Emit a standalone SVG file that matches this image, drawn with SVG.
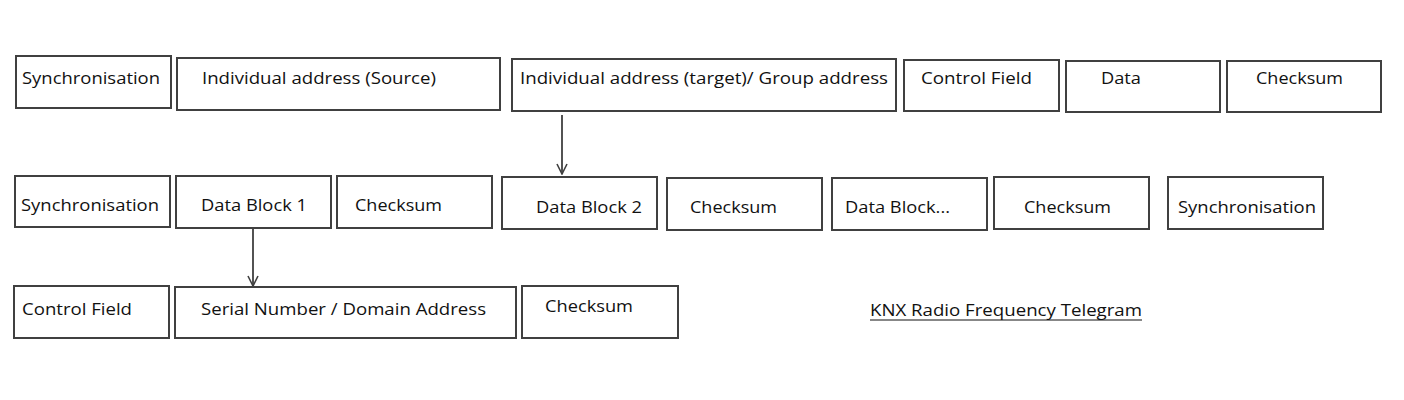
<svg xmlns="http://www.w3.org/2000/svg" width="1404" height="400" viewBox="0 0 1404 400">
<style>
.b{fill:#fff;stroke:#404040;stroke-width:2}
.t{font-family:"Open Sans","Liberation Sans",sans-serif;font-size:17px;fill:#111}
.c{stroke:#404040;stroke-width:1.8;fill:none}
</style>
<defs>
<marker id="ah" viewBox="0 0 12 12" refX="11" refY="6" markerWidth="12" markerHeight="12" markerUnits="userSpaceOnUse" orient="auto">
<path d="M1,1 L11,6 L1,11" fill="none" stroke="#404040" stroke-width="1.6"/>
</marker>
</defs>
<rect width="1404" height="400" fill="#fff"/>
<g id="r1-sync"><rect class="b" x="16" y="56" width="155" height="52"/><text class="t" x="22" y="84" textLength="138" lengthAdjust="spacingAndGlyphs">Synchronisation</text></g>
<g id="r1-src"><rect class="b" x="177" y="58" width="323" height="52"/><text class="t" x="202" y="84" textLength="234" lengthAdjust="spacingAndGlyphs">Individual address (Source)</text></g>
<g id="r1-tgt"><rect class="b" x="512" y="59" width="384" height="52"/><text class="t" x="520" y="84" textLength="368" lengthAdjust="spacingAndGlyphs">Individual address (target)/ Group address</text></g>
<g id="r1-ctrl"><rect class="b" x="904" y="60" width="155" height="51"/><text class="t" x="921" y="84" textLength="111" lengthAdjust="spacingAndGlyphs">Control Field</text></g>
<g id="r1-data"><rect class="b" x="1066" y="61" width="154" height="51"/><text class="t" x="1101" y="84" textLength="40" lengthAdjust="spacingAndGlyphs">Data</text></g>
<g id="r1-chk"><rect class="b" x="1227" y="61" width="154" height="51"/><text class="t" x="1256" y="84" textLength="87" lengthAdjust="spacingAndGlyphs">Checksum</text></g>

<g id="r2-sync"><rect class="b" x="15" y="176" width="155" height="51"/><text class="t" x="21" y="211" textLength="138" lengthAdjust="spacingAndGlyphs">Synchronisation</text></g>
<g id="r2-db1"><rect class="b" x="176" y="176" width="155" height="52"/><text class="t" x="201" y="211" textLength="106" lengthAdjust="spacingAndGlyphs">Data Block 1</text></g>
<g id="r2-chk1"><rect class="b" x="337" y="176" width="155" height="52"/><text class="t" x="355" y="211" textLength="87" lengthAdjust="spacingAndGlyphs">Checksum</text></g>
<g id="r2-db2"><rect class="b" x="502" y="177" width="155" height="52"/><text class="t" x="536" y="213" textLength="106" lengthAdjust="spacingAndGlyphs">Data Block 2</text></g>
<g id="r2-chk2"><rect class="b" x="667" y="178" width="155" height="52"/><text class="t" x="690" y="213" textLength="87" lengthAdjust="spacingAndGlyphs">Checksum</text></g>
<g id="r2-dbn"><rect class="b" x="832" y="178" width="155" height="52"/><text class="t" x="845" y="213" textLength="105" lengthAdjust="spacingAndGlyphs">Data Block...</text></g>
<g id="r2-chk3"><rect class="b" x="994" y="177" width="155" height="52"/><text class="t" x="1024" y="213" textLength="87" lengthAdjust="spacingAndGlyphs">Checksum</text></g>
<g id="r2-sync2"><rect class="b" x="1168" y="177" width="155" height="52"/><text class="t" x="1178" y="213" textLength="138" lengthAdjust="spacingAndGlyphs">Synchronisation</text></g>

<g id="r3-ctrl"><rect class="b" x="14" y="286" width="155" height="52"/><text class="t" x="22" y="315" textLength="110" lengthAdjust="spacingAndGlyphs">Control Field</text></g>
<g id="r3-sn"><rect class="b" x="175" y="287" width="341" height="51"/><text class="t" x="201" y="315" textLength="285" lengthAdjust="spacingAndGlyphs">Serial Number / Domain Address</text></g>
<g id="r3-chk"><rect class="b" x="522" y="286" width="156" height="52"/><text class="t" x="545" y="312" textLength="88" lengthAdjust="spacingAndGlyphs">Checksum</text></g>
<g id="title"><text class="t" x="870" y="316" textLength="272" lengthAdjust="spacingAndGlyphs">KNX Radio Frequency Telegram</text><line x1="870" y1="320" x2="1142" y2="320" stroke="#111" stroke-width="1.2"/></g>

<g id="connectors">
<line class="c" x1="562" y1="115" x2="562" y2="174" marker-end="url(#ah)"/>
<line class="c" x1="253" y1="229" x2="253" y2="286" marker-end="url(#ah)"/>
</g>
</svg>
